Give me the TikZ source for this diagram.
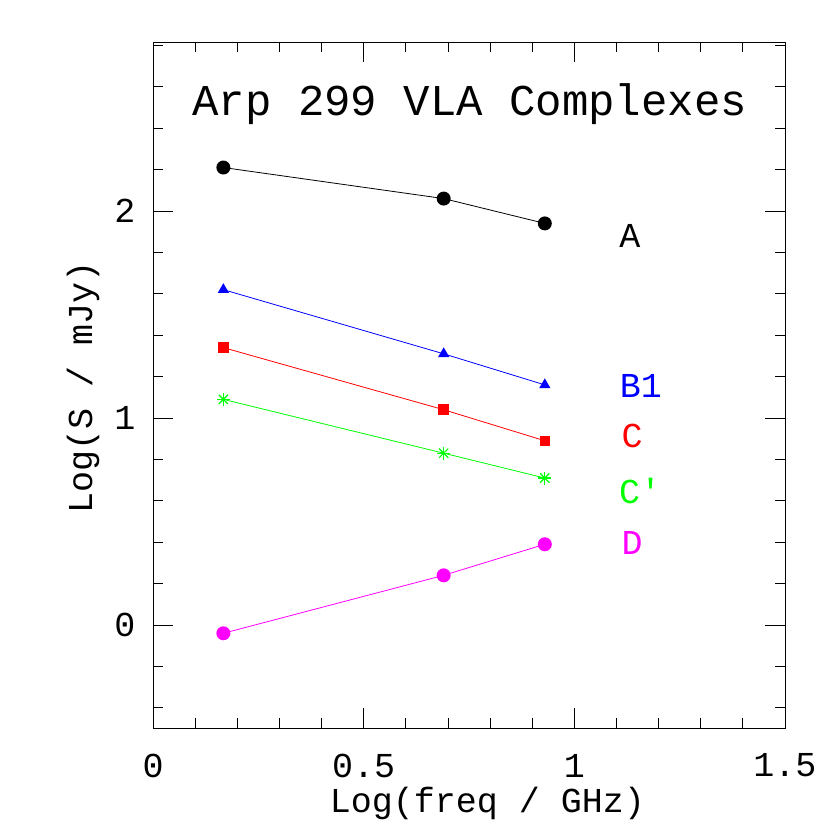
\documentclass[tikz,border=0pt]{standalone}
\usepackage{fontspec}
\usetikzlibrary{shapes.geometric}
\newfontfamily\plotfont{Liberation Mono}
\definecolor{mag}{RGB}{255,0,255}
\definecolor{grn}{RGB}{0,255,0}
\begin{document}
\begin{tikzpicture}[x=1pt,y=1pt,
  lab/.style={font=\plotfont\fontsize{35}{35}\selectfont},
  dotm/.style={circle,fill,inner sep=0pt,minimum size=14pt},
  trim/.style={regular polygon,regular polygon sides=3,fill,inner sep=0pt,minimum size=13pt},
  sqm/.style={rectangle,fill,inner sep=0pt,minimum size=10.5pt}]
\useasboundingbox (0,0) rectangle (830,830);
\fill[white] (0,0) rectangle (830,830);
\begin{scope}[shift={(153,205)},x=421.3pt,y=207pt]
\draw[line width=0.8pt] (0,-0.5) rectangle (1.5,2.816);
\foreach \i in {0,...,15}{
  \pgfmathsetmacro\xx{\i/10}
  \pgfmathsetmacro\len{ifthenelse(mod(\i,5)==0,20,10)}
  \draw[line width=0.8pt] (\xx,-0.5) -- ++(0,\len pt);
  \draw[line width=0.8pt] (\xx,2.816) -- ++(0,-\len pt);}
\foreach \i in {-2,...,14}{
  \pgfmathsetmacro\yy{\i/5}
  \pgfmathsetmacro\len{ifthenelse(mod(\i,5)==0,20,10)}
  \draw[line width=0.8pt] (0,\yy) -- ++(\len pt,0);
  \draw[line width=0.8pt] (1.5,\yy) -- ++(-\len pt,0);}
\foreach \v/\t in {0/0,0.5/0.5,1/1,1.5/1.5}
  \node[lab] (xl\t) at (\v,-0.5) [yshift=-37pt] {\t};
\foreach \v in {0,1,2}
  \node[lab,anchor=east] (yl\v) at (0,\v) [xshift=-14pt] {\v};
\node[lab] (xlabel) at (0.794,-0.5) [yshift=-75pt] {Log(freq / GHz)};
\node[lab,rotate=90] (ylabel) at (-0.166,1.147) {Log(S / mJy)};
\node[font=\plotfont\fontsize{44}{44}\selectfont] (title) at (0.752,2.517) {Arp 299 VLA Complexes};
\node[dotm] (a1) at (0.167,2.21) {};
\node[dotm] (a2) at (0.69,2.06) {};
\node[dotm] (a3) at (0.93,1.94) {};
\draw[line width=0.8pt] (a1.center)--(a2.center)--(a3.center);
\begin{scope}[blue]
\node[trim] (b1) at (0.167,1.62) {};
\node[trim] (b2) at (0.69,1.31) {};
\node[trim] (b3) at (0.93,1.16) {};
\draw[line width=0.8pt] (b1.center)--(b2.center)--(b3.center);
\end{scope}
\begin{scope}[red]
\node[sqm] (c1) at (0.167,1.34) {};
\node[sqm] (c2) at (0.69,1.04) {};
\node[sqm] (c3) at (0.93,0.89) {};
\draw[line width=0.8pt] (c1.center)--(c2.center)--(c3.center);
\end{scope}
\begin{scope}[grn]
\coordinate (d1) at (0.167,1.09);
\coordinate (d2) at (0.69,0.83);
\coordinate (d3) at (0.93,0.71);
\draw[line width=0.8pt] (d1)--(d2)--(d3);
\foreach \p in {d1,d2,d3}{
  \foreach \ang in {0,45,90,135}
    \draw[line width=1.2pt] (\p) ++(\ang:6.5pt) -- ++(\ang+180:13pt);}
\end{scope}
\begin{scope}[mag]
\node[dotm] (e1) at (0.167,-0.04) {};
\node[dotm] (e2) at (0.69,0.24) {};
\node[dotm] (e3) at (0.93,0.39) {};
\draw[line width=0.8pt] (e1.center)--(e2.center)--(e3.center);
\end{scope}
\node[lab] (la) at (1.132,1.88) {A};
\node[lab,blue] (lb) at (1.158,1.155) {B1};
\node[lab,red] (lc) at (1.137,0.913) {C};
\node[lab,grn] (lcp) at (1.156,0.647) {C'};
\node[lab,mag] (ld) at (1.137,0.396) {D};
\end{scope}
\end{tikzpicture}
\end{document}
